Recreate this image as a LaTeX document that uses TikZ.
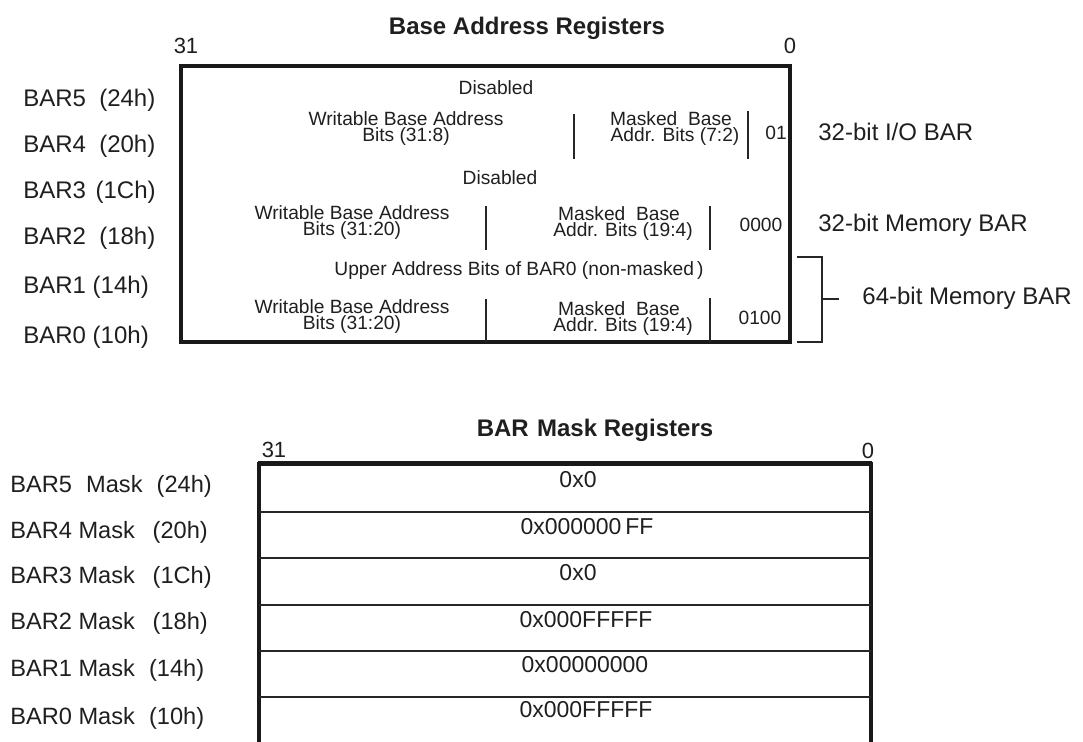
\documentclass[tikz,border=0pt]{standalone}
\usepackage{fontspec}
\setmainfont{Liberation Sans}
\newcommand\myinnerfont{\fontsize{9.6}{11}\selectfont}
\begin{document}
\begin{tikzpicture}[x=0.5pt,y=-0.5pt,
  every node/.style={inner sep=0pt,text=black!88},
  lab/.style={anchor=west,font=\fontsize{12}{14}\selectfont},
  mlab/.style={anchor=west,font=\fontsize{11.8}{14}\selectfont},
  ttl/.style={font=\bfseries\fontsize{12}{14}\selectfont},
  bitn/.style={font=\fontsize{11}{13}\selectfont},
  inner/.style={font=\myinnerfont},
  ln/.style={anchor=base,font=\myinnerfont},
  hex/.style={font=\fontsize{11.5}{13}\selectfont},
  frame/.style={line width=2pt,draw=black!90},
  div/.style={line width=1pt,draw=black!85},
  rowline/.style={line width=1.2pt,draw=black!85},
  brk/.style={line width=1pt,draw=black!85}]
\useasboundingbox (0,0) rectangle (1083,742);

% ---------- Base Address Registers ----------
\node[ttl] (t1) at (527,28) {Base Address Registers};
\node[bitn] (b31a) at (186,46) {31};
\node[bitn] (b0a) at (790,46) {0};
\draw[frame] (181,66) rectangle (790,342);

\node[lab] (l5) at (23,100) {BAR5\hspace{0.55em}(24h)};
\node[lab] (l4) at (23,146) {BAR4\hspace{0.55em}(20h)};
\node[lab] (l3) at (23,192) {BAR3\hspace{0.4em}(1Ch)};
\node[lab] (l2) at (23,238) {BAR2\hspace{0.55em}(18h)};
\node[lab] (l1) at (23,287) {BAR1 (14h)};
\node[lab] (l0) at (23,337) {BAR0 (10h)};

% BAR5
\node[inner] (d5) at (496,88) {Disabled};
% BAR4
\node[ln] (w4a) at (406,126) {Writable Base Address};
\node[ln] (w4b) at (406,142) {Bits (31:8)};
\draw[div] (574,114) -- (574,159);
\node[ln] (m4a) at (671,126) {Masked\ \ Base};
\node[ln] (m4b) at (675,142) {Addr. Bits (7:2)};
\draw[div] (748,111) -- (748,159);
\node[inner] (c4) at (776,133) {01};
% BAR3
\node[inner] (d3) at (500,178) {Disabled};
% BAR2
\node[ln] (w2a) at (352,220) {Writable Base Address};
\node[ln] (w2b) at (352,236) {Bits (31:20)};
\draw[div] (486,206) -- (486,250);
\node[ln] (m2a) at (619,221) {Masked\ \ Base};
\node[ln] (m2b) at (623,237) {Addr. Bits (19:4)};
\draw[div] (710,206) -- (710,250);
\node[inner] (c2) at (761,225) {0000};
% BAR1
\node[inner] (u1) at (519,271) {Upper Address Bits of BAR0 (non-masked\,)};
% BAR0
\node[ln] (w0a) at (352,314) {Writable Base Address};
\node[ln] (w0b) at (352,330) {Bits (31:20)};
\draw[div] (486,299) -- (486,342);
\node[ln] (m0a) at (619,316) {Masked\ \ Base};
\node[ln] (m0b) at (623,332) {Addr. Bits (19:4)};
\draw[div] (710,298) -- (710,342);
\node[inner] (c0) at (760,318) {0100};

\node[lab] (r4) at (818,132) {32-bit I/O BAR};
\node[lab] (r2) at (818,225) {32-bit Memory BAR};
\node[lab] (r0) at (862,298) {64-bit Memory BAR};
\coordinate (bt) at (797,257);
\coordinate (bb) at (797,342);
\coordinate (bm) at (822,299);
\coordinate (bk) at (839,299);
\draw[brk] (bt) -- (bt -| bm) -- (bb -| bm) -- (bb);
\draw[brk] (bm) -- (bk);

% ---------- BAR Mask Registers ----------
\node[ttl] (t2) at (595,430) {BAR\hspace{0.35em}Mask Registers};
\node[bitn] (b31b) at (274,450) {31};
\node[bitn] (b0b) at (868,451) {0};
\draw[frame] (259,742) -- (259,464) -- (871,464) -- (871,742);
\draw[line width=2.6pt,draw=black!90] (258,463.5) -- (872,463.5);
\foreach \yy in {512,558,605,651,697}
  \draw[rowline] (259,\yy) -- (871,\yy);

\node[mlab] (k5) at (10,486) {BAR5\hspace{0.6em}Mask\hspace{0.6em}(24h)};
\node[mlab] (k4) at (10,532) {BAR4 Mask\hspace{0.75em}(20h)};
\node[mlab] (k3) at (10,577) {BAR3 Mask\hspace{0.75em}(1Ch)};
\node[mlab] (k2) at (10,623) {BAR2 Mask\hspace{0.75em}(18h)};
\node[mlab] (k1) at (10,670) {BAR1 Mask\hspace{0.6em}(14h)};
\node[mlab] (k0) at (10,718) {BAR0 Mask\hspace{0.6em}(10h)};

\node[hex] (h5) at (578,480) {0x0};
\node[hex] (h4) at (587,527) {0x000000\,FF};
\node[hex] (h3) at (578,573) {0x0};
\node[hex] (h2) at (586,620) {0x000FFFFF};
\node[hex] (h1) at (585,665) {0x00000000};
\node[hex] (h0) at (586,710) {0x000FFFFF};
\end{tikzpicture}
\end{document}
